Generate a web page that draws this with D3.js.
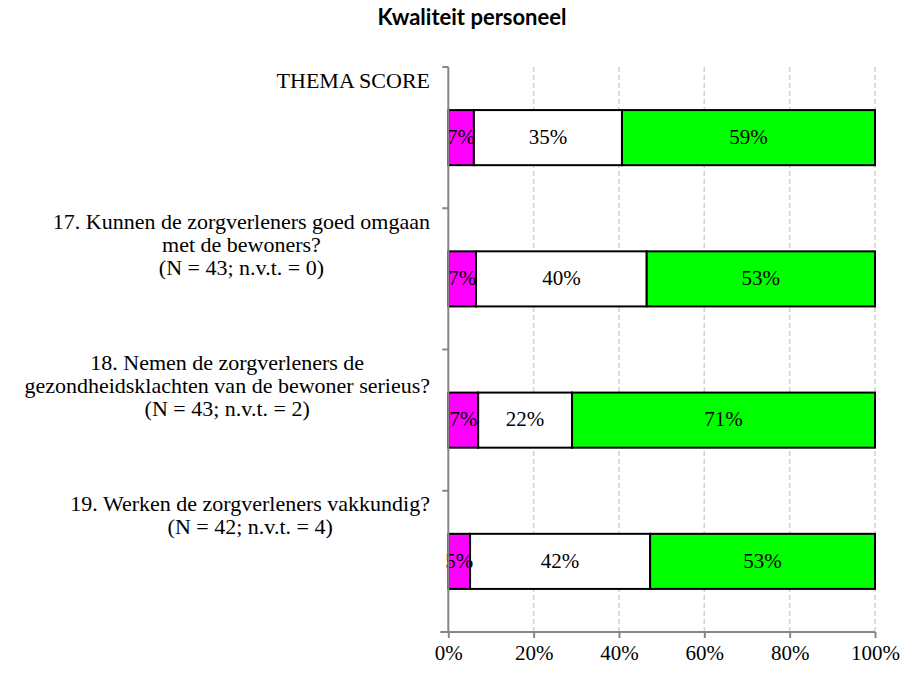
<!DOCTYPE html>
<html>
<head>
<meta charset="utf-8">
<script src="https://cdn.jsdelivr.net/npm/d3@7"></script>
<style>
    body { margin: 0; background: #fff; }
    svg { display: block; }
</style>
</head>
<body>
<svg id="chart" width="909" height="675"></svg>
<script>
(function () {
    'use strict';

    var categories = ["thema", "q17", "q18", "q19"];
    var categoryLabels = [
        ["THEMA SCORE"],
        ["17. Kunnen de zorgverleners goed omgaan", "met de bewoners?", "(N = 43; n.v.t. = 0)"],
        ["18. Nemen de zorgverleners de", "gezondheidsklachten van de bewoner serieus?", "(N = 43; n.v.t. = 2)"],
        ["19. Werken de zorgverleners vakkundig?", "(N = 42; n.v.t. = 4)"]
    ];
    // segment lengths
    var negative = [6.0, 6.5, 7.0, 5.1];
    var neutral = [34.7, 40.0, 22.0, 42.2];
    var positive = [59.3, 53.5, 71.0, 52.7];
    // printed labels
    var negativeText = ["7%", "7%", "7%", "5%"];
    var neutralText = ["35%", "40%", "22%", "42%"];
    var positiveText = ["59%", "53%", "71%", "53%"];
    var xTicks = [0, 20, 40, 60, 80, 100];

    var series = [
        { values: negative, labels: negativeText, colour: "#ff00ff" },
        { values: neutral, labels: neutralText, colour: "#ffffff" },
        { values: positive, labels: positiveText, colour: "#00ff00" }
    ];

    var serif = "'Liberation Serif', 'Times New Roman', serif",
        left = 448.3, right = 875, top = 67, bottom = 632;

    var svg = d3.select("#chart");

    var x = d3.scaleLinear().domain([0, 100]).range([left, right]);
    var y = d3.scaleBand().domain(categories).range([top, bottom])
        .paddingInner(0.61).paddingOuter(0.305);

    // title
    svg.append("text")
        .attr("x", 472)
        .attr("y", 25)
        .attr("text-anchor", "middle")
        .attr("font-family", "Lato, 'Open Sans', sans-serif")
        .attr("font-weight", "bold")
        .attr("font-size", 22)
        .attr("fill", "#000")
        .text("Kwaliteit personeel");

    // gridlines
    svg.append("g")
        .selectAll("line")
        .data(xTicks.slice(1))
        .enter()
        .append("line")
        .attr("x1", function (d) { return x(d); })
        .attr("x2", function (d) { return x(d); })
        .attr("y1", top)
        .attr("y2", bottom)
        .attr("stroke", "#d0d0d0")
        .attr("stroke-width", 1.5)
        .attr("stroke-dasharray", "5,3");

    // stacked bars
    var stacked = categories.map(function (c, i) {
        var start = 0;
        return series.map(function (s) {
            var seg = { cat: c, x0: start, x1: start + s.values[i], label: s.labels[i], colour: s.colour };
            start += s.values[i];
            return seg;
        });
    });
    var segs = [].concat.apply([], stacked);

    svg.append("g")
        .selectAll("rect")
        .data(segs)
        .enter()
        .append("rect")
        .attr("x", function (d) { return x(d.x0); })
        .attr("y", function (d) { return y(d.cat); })
        .attr("width", function (d) { return x(d.x1) - x(d.x0); })
        .attr("height", y.bandwidth())
        .attr("fill", function (d) { return d.colour; })
        .attr("stroke", "#000")
        .attr("stroke-width", 2);

    svg.append("g")
        .selectAll("text")
        .data(segs)
        .enter()
        .append("text")
        .attr("x", function (d) { return (x(d.x0) + x(d.x1)) / 2; })
        .attr("y", function (d) { return y(d.cat) + y.bandwidth() / 2; })
        .attr("dy", "0.3em")
        .attr("text-anchor", "middle")
        .attr("font-family", serif)
        .attr("font-size", 21)
        .attr("fill", "#000")
        .text(function (d) { return d.label; });

    // y axis
    var step = y.step();
    svg.append("line")
        .attr("x1", left).attr("x2", left)
        .attr("y1", top).attr("y2", bottom)
        .attr("stroke", "#868686").attr("stroke-width", 2);
    svg.append("g")
        .selectAll("line")
        .data(d3.range(categories.length + 1))
        .enter()
        .append("line")
        .attr("x1", left - 6).attr("x2", left)
        .attr("y1", function (i) { return top + i * step; })
        .attr("y2", function (i) { return top + i * step; })
        .attr("stroke", "#868686").attr("stroke-width", 2);

    // category labels
    var labelGroups = svg.append("g")
        .selectAll("g")
        .data(categories)
        .enter()
        .append("g");
    labelGroups.each(function (c, i) {
        var g = d3.select(this);
        var lines = categoryLabels[i];
        var texts = g.selectAll("text")
            .data(lines)
            .enter()
            .append("text")
            .attr("y", function (d, j) { return y(c) - y.step() * 0.305 + 13 + j * 23; })
            .attr("dy", "0.35em")
            .attr("text-anchor", "middle")
            .attr("font-family", serif)
            .attr("font-size", 22)
            .attr("fill", "#000")
            .text(function (d) { return d; });
        var widest = d3.max(texts.nodes(), function (n) { return n.getComputedTextLength(); });
        texts.attr("x", 430 - widest / 2);
    });

    // x axis
    var xAxis = svg.append("g")
        .attr("transform", "translate(0," + bottom + ")")
        .call(d3.axisBottom(x).tickValues(xTicks).tickSize(6)
            .tickFormat(function (d) { return d + "%"; }));
    xAxis.select(".domain").attr("stroke", "#868686").attr("stroke-width", 2)
        .attr("d", "M" + (left - 8) + ",0H" + right);
    xAxis.selectAll(".tick line").attr("stroke", "#868686").attr("stroke-width", 2);
    xAxis.selectAll(".tick text")
        .attr("font-family", serif)
        .attr("font-size", 21)
        .attr("fill", "#000")
        .attr("y", 21)
        .attr("dy", "0.35em");
})();
</script>
</body>
</html>
